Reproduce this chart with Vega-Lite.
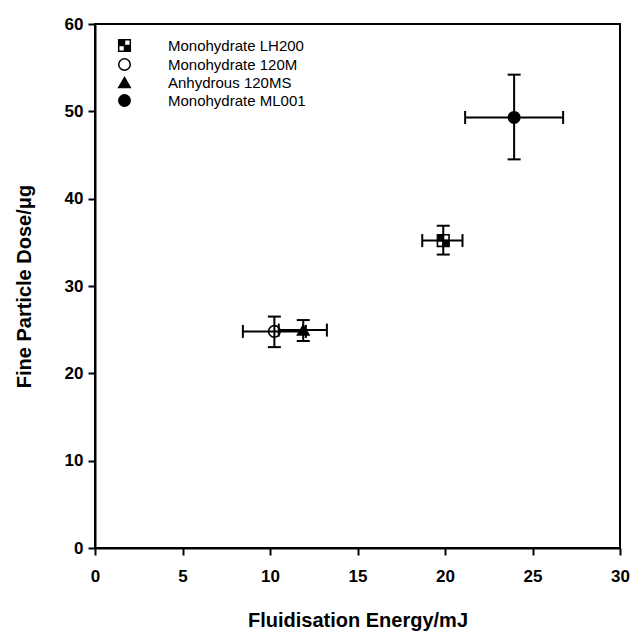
{
  "$schema": "https://vega.github.io/schema/vega-lite/v6.json",
  "width": 525,
  "height": 524,
  "autosize": {"type": "none"},
  "padding": {"left": 95, "top": 24, "right": 14, "bottom": 94},
  "background": "white",
  "config": {
    "view": {"stroke": "black", "strokeWidth": 2},
    "font": "Liberation Sans",
    "axis": {
      "grid": false,
      "labelFlush": false,
      "domainColor": "black",
      "domainWidth": 2,
      "tickColor": "black",
      "tickWidth": 2,
      "tickSize": 7,
      "labelFont": "Liberation Sans",
      "labelFontWeight": "bold",
      "labelFontSize": 17,
      "labelColor": "black",
      "titleFont": "Liberation Sans",
      "titleFontWeight": "bold",
      "titleFontSize": 20,
      "titleColor": "black"
    }
  },
  "data": {
    "values": [
      {"name": "Monohydrate LH200", "x": 19.9, "y": 35.2, "xlo": 18.7, "xhi": 21.0, "ylo": 33.6, "yhi": 36.9},
      {"name": "Monohydrate 120M", "x": 10.25, "y": 24.8, "xlo": 8.45, "xhi": 12.05, "ylo": 23.0, "yhi": 26.5},
      {"name": "Anhydrous 120MS", "x": 11.9, "y": 24.95, "xlo": 10.5, "xhi": 13.25, "ylo": 23.7, "yhi": 26.1},
      {"name": "Monohydrate ML001", "x": 23.95, "y": 49.3, "xlo": 21.15, "xhi": 26.75, "ylo": 44.5, "yhi": 54.2}
    ]
  },
  "layer": [
    {
      "mark": {"type": "rule", "color": "black", "strokeWidth": 2},
      "encoding": {
        "x": {"field": "xlo", "type": "quantitative", "scale": {"domain": [0, 30], "nice": false},
              "axis": {"values": [0, 5, 10, 15, 20, 25, 30], "title": "Fluidisation Energy/mJ", "labelPadding": 13, "titlePadding": 26}},
        "x2": {"field": "xhi"},
        "y": {"field": "y", "type": "quantitative", "scale": {"domain": [0, 60], "nice": false},
              "axis": {"values": [0, 10, 20, 30, 40, 50, 60], "title": "Fine Particle Dose/μg", "labelPadding": 5, "titlePadding": 30}}
      }
    },
    {
      "mark": {"type": "rule", "color": "black", "strokeWidth": 2},
      "encoding": {
        "x": {"field": "x", "type": "quantitative"},
        "y": {"field": "ylo", "type": "quantitative"},
        "y2": {"field": "yhi"}
      }
    },
    {
      "mark": {"type": "tick", "color": "black", "orient": "vertical", "size": 13, "thickness": 2, "opacity": 1},
      "encoding": {
        "x": {"field": "xlo", "type": "quantitative"},
        "y": {"field": "y", "type": "quantitative"}
      }
    },
    {
      "mark": {"type": "tick", "color": "black", "orient": "vertical", "size": 13, "thickness": 2, "opacity": 1},
      "encoding": {
        "x": {"field": "xhi", "type": "quantitative"},
        "y": {"field": "y", "type": "quantitative"}
      }
    },
    {
      "mark": {"type": "tick", "color": "black", "orient": "horizontal", "size": 13, "thickness": 2, "opacity": 1},
      "encoding": {
        "x": {"field": "x", "type": "quantitative"},
        "y": {"field": "ylo", "type": "quantitative"}
      }
    },
    {
      "mark": {"type": "tick", "color": "black", "orient": "horizontal", "size": 13, "thickness": 2, "opacity": 1},
      "encoding": {
        "x": {"field": "x", "type": "quantitative"},
        "y": {"field": "yhi", "type": "quantitative"}
      }
    },
    {
      "mark": {"type": "point", "filled": true, "stroke": "black", "strokeWidth": 1.6, "opacity": 1},
      "encoding": {
        "x": {"field": "x", "type": "quantitative"},
        "y": {"field": "y", "type": "quantitative"},
        "shape": {
          "field": "name", "type": "nominal",
          "scale": {
            "domain": ["Monohydrate LH200", "Monohydrate 120M", "Anhydrous 120MS", "Monohydrate ML001"],
            "range": ["M-1,-1H0V0H-1Z M0,0H1V1H0Z M0,-1L1,-1L1,0L1,-1Z M-1,0L-1,1L0,1L-1,1Z", "circle", "triangle-up", "circle"]
          },
          "legend": {
            "title": null,
            "orient": "none",
            "legendX": 22,
            "legendY": 14,
            "padding": 0,
            "labelFont": "Liberation Sans",
            "labelFontSize": 15,
            "labelColor": "black",
            "labelOffset": 36,
            "rowPadding": 0,
            "symbolStrokeColor": "black",
            "symbolStrokeWidth": 1.5
          }
        },
        "fill": {
          "field": "name", "type": "nominal",
          "scale": {
            "domain": ["Monohydrate LH200", "Monohydrate 120M", "Anhydrous 120MS", "Monohydrate ML001"],
            "range": ["black", "transparent", "black", "black"]
          }
        },
        "size": {
          "field": "name", "type": "nominal",
          "scale": {
            "domain": ["Monohydrate LH200", "Monohydrate 120M", "Anhydrous 120MS", "Monohydrate ML001"],
            "range": [135, 130, 110, 180]
          }
        }
      }
    }
  ]
}
